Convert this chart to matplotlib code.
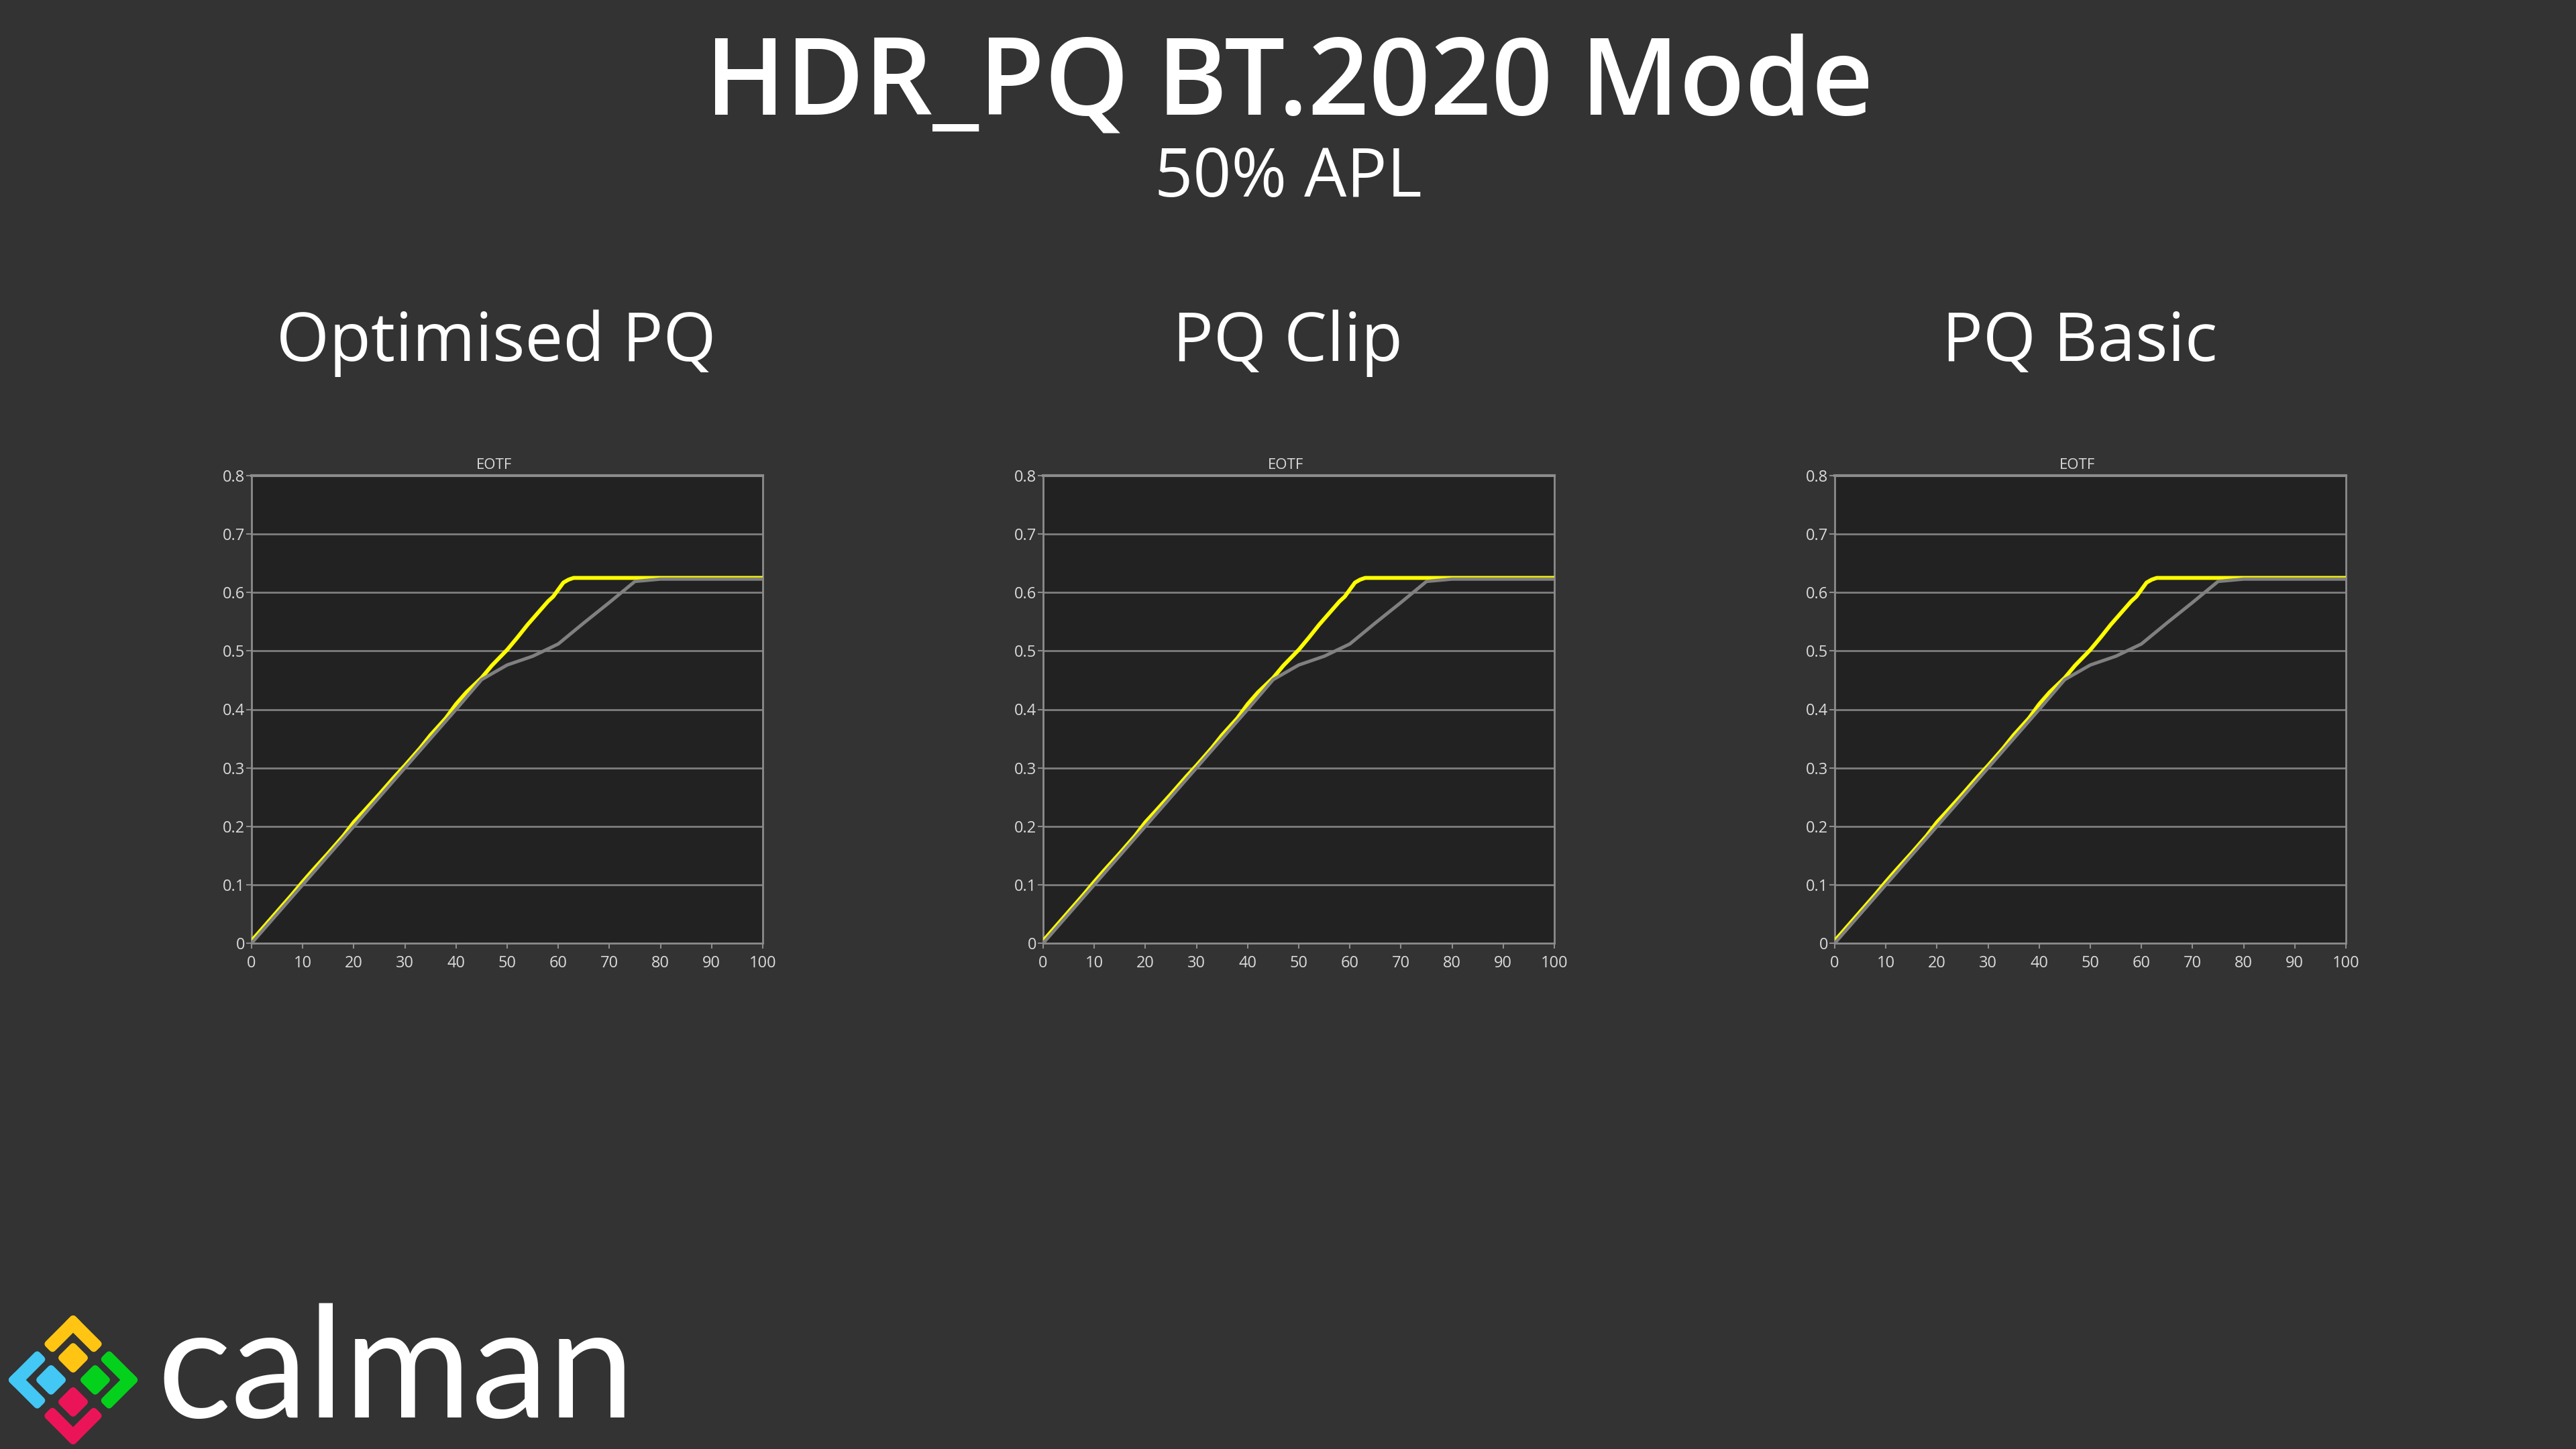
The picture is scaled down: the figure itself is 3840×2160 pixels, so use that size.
import numpy as np
import matplotlib
matplotlib.use("Agg")
import matplotlib.pyplot as plt
from matplotlib.patches import FancyBboxPatch
from matplotlib.transforms import Affine2D

# ---------------- data ----------------
title = "HDR_PQ BT.2020 Mode"
subtitle = "50% APL"
panel_titles = ["Optimised PQ", "PQ Clip", "PQ Basic"]
chart_label = "EOTF"

x_ticks = [0, 10, 20, 30, 40, 50, 60, 70, 80, 90, 100]
y_ticks = [0, 0.1, 0.2, 0.3, 0.4, 0.5, 0.6, 0.7, 0.8]
y_tick_labels = ["0", "0.1", "0.2", "0.3", "0.4", "0.5", "0.6", "0.7", "0.8"]

# target (grey) curve
target_x = [0, 5, 10, 15, 20, 25, 30, 35, 40, 45, 50, 55, 60, 65, 70, 75, 80, 85, 90, 95, 100]
target_y = [0.0, 0.05, 0.10, 0.15, 0.20, 0.25, 0.30, 0.35, 0.40, 0.451, 0.476, 0.491, 0.512,
            0.548, 0.583, 0.619, 0.623, 0.623, 0.623, 0.623, 0.623]

# measured (yellow) curve
meas_x = [0, 2, 5, 8, 10, 12, 15, 18, 20, 22, 25, 28, 30, 33, 35, 38, 40, 42, 45, 47,
          50, 52, 54, 56, 58, 59, 60, 61, 62, 63, 70, 80, 90, 100]
meas_y = [0.004, 0.024, 0.054, 0.084, 0.105, 0.125, 0.154, 0.184, 0.207, 0.226, 0.255,
          0.285, 0.304, 0.334, 0.356, 0.385, 0.409, 0.429, 0.454, 0.475, 0.502, 0.523,
          0.545, 0.565, 0.585, 0.593, 0.605, 0.617, 0.622, 0.625, 0.625, 0.625, 0.625, 0.625]

# ---------------- style ----------------
W, H = 3840, 2160
BG = "#333333"
PLOT_BG = "#222222"
GRID = "#7f7f7f"
SPINE = "#8c8c8c"
TICKTXT = "#dadada"
FONT = "Open Sans"

fig = plt.figure(figsize=(W / 100, H / 100), dpi=100, facecolor=BG)

def fx(px):
    return px / W

def fy(py_from_top):
    return 1 - py_from_top / H

fig.text(fx(1922), fy(170), title, ha="center", va="baseline", color="white",
         fontsize=115, fontweight="semibold", family=FONT)
fig.text(fx(1920), fy(293), subtitle, ha="center", va="baseline", color="white",
         fontsize=72, family=FONT)

ax_left0 = 375
ax_step = 1180
ax_w = 762
ax_top = 709
ax_bot = 1406

for i, name in enumerate(panel_titles):
    left = ax_left0 + i * ax_step
    ax = fig.add_axes([fx(left), 1 - ax_bot / H, ax_w / W, (ax_bot - ax_top) / H])
    ax.set_facecolor(PLOT_BG)
    ax.set_xlim(0, 100)
    ax.set_ylim(0, 0.8)
    ax.set_xticks(x_ticks)
    ax.set_xticklabels([str(t) for t in x_ticks])
    ax.set_yticks(y_ticks)
    ax.set_yticklabels(y_tick_labels)
    for t in y_ticks[1:-1]:
        ax.axhline(t, color=GRID, lw=2.0, zorder=1)
    ax.plot(meas_x, meas_y, color="#ffff00", lw=4.2, zorder=3, solid_joinstyle="round")
    ax.plot(target_x, target_y, color="#808080", lw=3.6, zorder=4, solid_joinstyle="round")
    for s in ax.spines.values():
        s.set_color(SPINE)
        s.set_linewidth(2.0)
    ax.spines["top"].set_linewidth(3.0)
    ax.tick_params(axis="x", colors=SPINE, labelcolor=TICKTXT, length=6, width=1.5,
                   pad=7, labelsize=17)
    ax.tick_params(axis="y", colors=SPINE, labelcolor=TICKTXT, length=6, width=1.5,
                   pad=1, labelsize=17)
    for lab in ax.get_xticklabels() + ax.get_yticklabels():
        lab.set_family(FONT)
    fig.text(fx(736 + i * ax_step), fy(699), chart_label, ha="center", va="baseline",
             color=TICKTXT, fontsize=16, family=FONT)
    fig.text(fx(1920 + (i - 1) * ax_step), fy(538), name, ha="center", va="baseline",
             color="white", fontsize=73, family=FONT)

# ---------------- logo ----------------
ov = fig.add_axes([0, 0, 1, 1], zorder=5)
ov.set_xlim(0, W)
ov.set_ylim(0, H)
ov.axis("off")
ov.patch.set_alpha(0)
tr = Affine2D().rotate_deg(45).translate(109, H - 2057) + ov.transData

YEL, BLU, GRN, RED = "#ffc512", "#43c7f4", "#04d11c", "#ec1459"
o0, o1 = 49.7, 69.5
i0, i1 = 6.2, 40.3

def box(a0, a1, b0, b1, color):
    p = FancyBboxPatch((a0, b0), a1 - a0, b1 - b0,
                       boxstyle="round,pad=0,rounding_size=6",
                       fc=color, ec="none", transform=tr)
    ov.add_patch(p)

# outer chevrons
box(i0, o1, o0, o1, YEL); box(o0, o1, i0, o1, YEL)
box(o0, o1, -o1, -i0, GRN); box(i0, o1, -o1, -o0, GRN)
box(-o1, -o0, i0, o1, BLU); box(-o1, -i0, o0, o1, BLU)
box(-o1, -i0, -o1, -o0, RED); box(-o1, -o0, -o1, -i0, RED)
# inner tiles
box(i0, i1, i0, i1, YEL)
box(i0, i1, -i1, -i0, GRN)
box(-i1, -i0, i0, i1, BLU)
box(-i1, -i0, -i1, -i0, RED)

ov.text(234, H - 2113, "calman", ha="left", va="baseline", color="white",
        fontsize=166, family="Lato")

fig.savefig("out.png", dpi=100, facecolor=BG)
